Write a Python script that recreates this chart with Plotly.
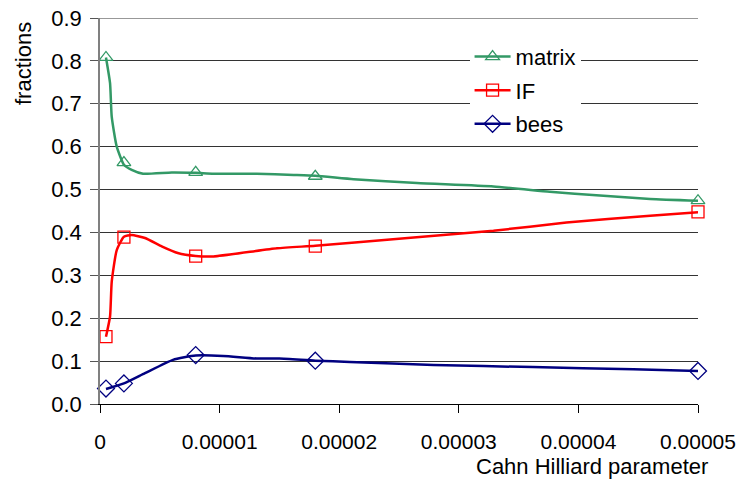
import plotly.graph_objects as go

# Data points (markers)
cahn = [5e-7, 2e-6, 8e-6, 1.8e-5, 5e-5]
matrix = [0.808, 0.563, 0.540, 0.531, 0.474]
IF = [0.157, 0.389, 0.345, 0.368, 0.448]
bees = [0.036, 0.048, 0.114, 0.101, 0.077]

# Smoothed curves
matrix_curve_x = [5e-7, 8.4e-7, 9.8e-7, 1.4e-6, 2e-6, 2.65e-6, 3.6e-6, 6e-6, 8e-6, 9.5e-6,
                  1.31e-5, 1.62e-5, 1.8e-5, 2.12e-5, 2.65e-5, 3.29e-5, 3.76e-5, 4.18e-5, 4.6e-5, 5e-5]
matrix_curve_y = [0.808, 0.748, 0.670, 0.600, 0.558, 0.546, 0.537, 0.540, 0.539, 0.537,
                  0.537, 0.534, 0.532, 0.524, 0.515, 0.507, 0.495, 0.486, 0.478, 0.474]
IF_curve_x = [5e-7, 8.4e-7, 9.8e-7, 1.4e-6, 2e-6, 2.65e-6, 3.76e-6, 5.2e-6, 6.5e-6, 8e-6, 9.5e-6,
              1.48e-5, 1.8e-5, 2.45e-5, 3.29e-5, 3.9e-5, 4.6e-5, 5e-5]
IF_curve_y = [0.157, 0.204, 0.285, 0.359, 0.390, 0.394, 0.387, 0.367, 0.352, 0.345, 0.344,
              0.363, 0.369, 0.384, 0.404, 0.423, 0.439, 0.447]
bees_curve_x = [5e-7, 2e-6, 3.76e-6, 6.1e-6, 8e-6, 1.03e-5, 1.31e-5, 1.5e-5, 1.8e-5, 2.09e-5,
                2.79e-5, 3.62e-5, 4.46e-5, 5e-5]
bees_curve_y = [0.035, 0.048, 0.072, 0.103, 0.113, 0.112, 0.106, 0.106, 0.101, 0.098,
                0.091, 0.086, 0.081, 0.077]

x_ticks = [0, 1e-5, 2e-5, 3e-5, 4e-5, 5e-5]
x_tick_labels = ["0", "0.00001", "0.00002", "0.00003", "0.00004", "0.00005"]
y_ticks = [0.0, 0.1, 0.2, 0.3, 0.4, 0.5, 0.6, 0.7, 0.8, 0.9]
y_tick_labels = ["0.0", "0.1", "0.2", "0.3", "0.4", "0.5", "0.6", "0.7", "0.8", "0.9"]

series = [
    ("matrix", matrix_curve_x, matrix_curve_y, matrix, "#339966", "triangle-up-open", 12),
    ("IF", IF_curve_x, IF_curve_y, IF, "#FF0000", "square-open", 12),
    ("bees", bees_curve_x, bees_curve_y, bees, "#000080", "diamond-open", 13),
]

FONT = "Liberation Sans, Arial, sans-serif"
GRID = "#333333"
fig = go.Figure()
for name, cx, cy, vals, color, sym, size in series:
    fig.add_trace(go.Scatter(x=cx, y=cy, mode="lines", line=dict(color=color, width=2.5, shape="spline", smoothing=0.5),
                             showlegend=False, hoverinfo="skip", cliponaxis=False))
    fig.add_trace(go.Scatter(x=cahn, y=vals, mode="markers", showlegend=False, cliponaxis=False,
                             marker=dict(symbol=sym, size=size, color=color, line=dict(width=1.3, color=color))))
    fig.add_trace(go.Scatter(x=[None], y=[None], mode="lines+markers", name=name, legendgroup=name,
                             line=dict(color=color, width=2.5),
                             marker=dict(symbol=sym, size=size, color=color, line=dict(width=1.3, color=color))))

fig.update_layout(
    width=740, height=484,
    margin=dict(l=100, r=42, t=18, b=80),
    paper_bgcolor="white", plot_bgcolor="white",
    font=dict(family=FONT, size=22, color="black"),
    showlegend=True,
    legend=dict(x=0.618, y=0.954, xanchor="left", yanchor="top", bgcolor="white",
                font=dict(size=22), traceorder="grouped", tracegroupgap=2, itemwidth=36),
    xaxis=dict(range=[0, 5e-5], tickvals=x_ticks, ticktext=x_tick_labels, showgrid=False, zeroline=False,
               showline=True, linecolor="black", linewidth=1, ticks="outside", ticklen=8, tickcolor="black",
               ticklabelstandoff=11, automargin=False, tickfont=dict(size=21), ticklabeloverflow="allow"),
    yaxis=dict(range=[0, 0.9], tickvals=y_ticks, ticktext=y_tick_labels, showgrid=True, gridcolor=GRID,
               gridwidth=1, zeroline=False, showline=True, linecolor="#808080", linewidth=1.5, ticks="outside",
               ticklen=8, tickcolor="#555555", ticklabelstandoff=4, automargin=False, ticklabeloverflow="allow"),
    shapes=[dict(type="line", xref="paper", yref="y", x0=0, x1=1, y0=y_ticks[-1], y1=y_ticks[-1],
                 line=dict(color=GRID, width=1), layer="below")],
    annotations=[
        dict(text="fractions", xref="paper", yref="paper", x=-0.127, y=0.881, showarrow=False,
             textangle=-90, xanchor="center", yanchor="middle", font=dict(size=22)),
        dict(text="Cahn Hilliard parameter", xref="paper", yref="paper", x=1.02, y=-0.163, showarrow=False,
             xanchor="right", yanchor="middle", font=dict(size=22)),
    ],
)

fig.write_html("out.html", config={"displayModeBar": False},
               post_script="document.body.style.margin='0';document.body.style.overflow='hidden';")
